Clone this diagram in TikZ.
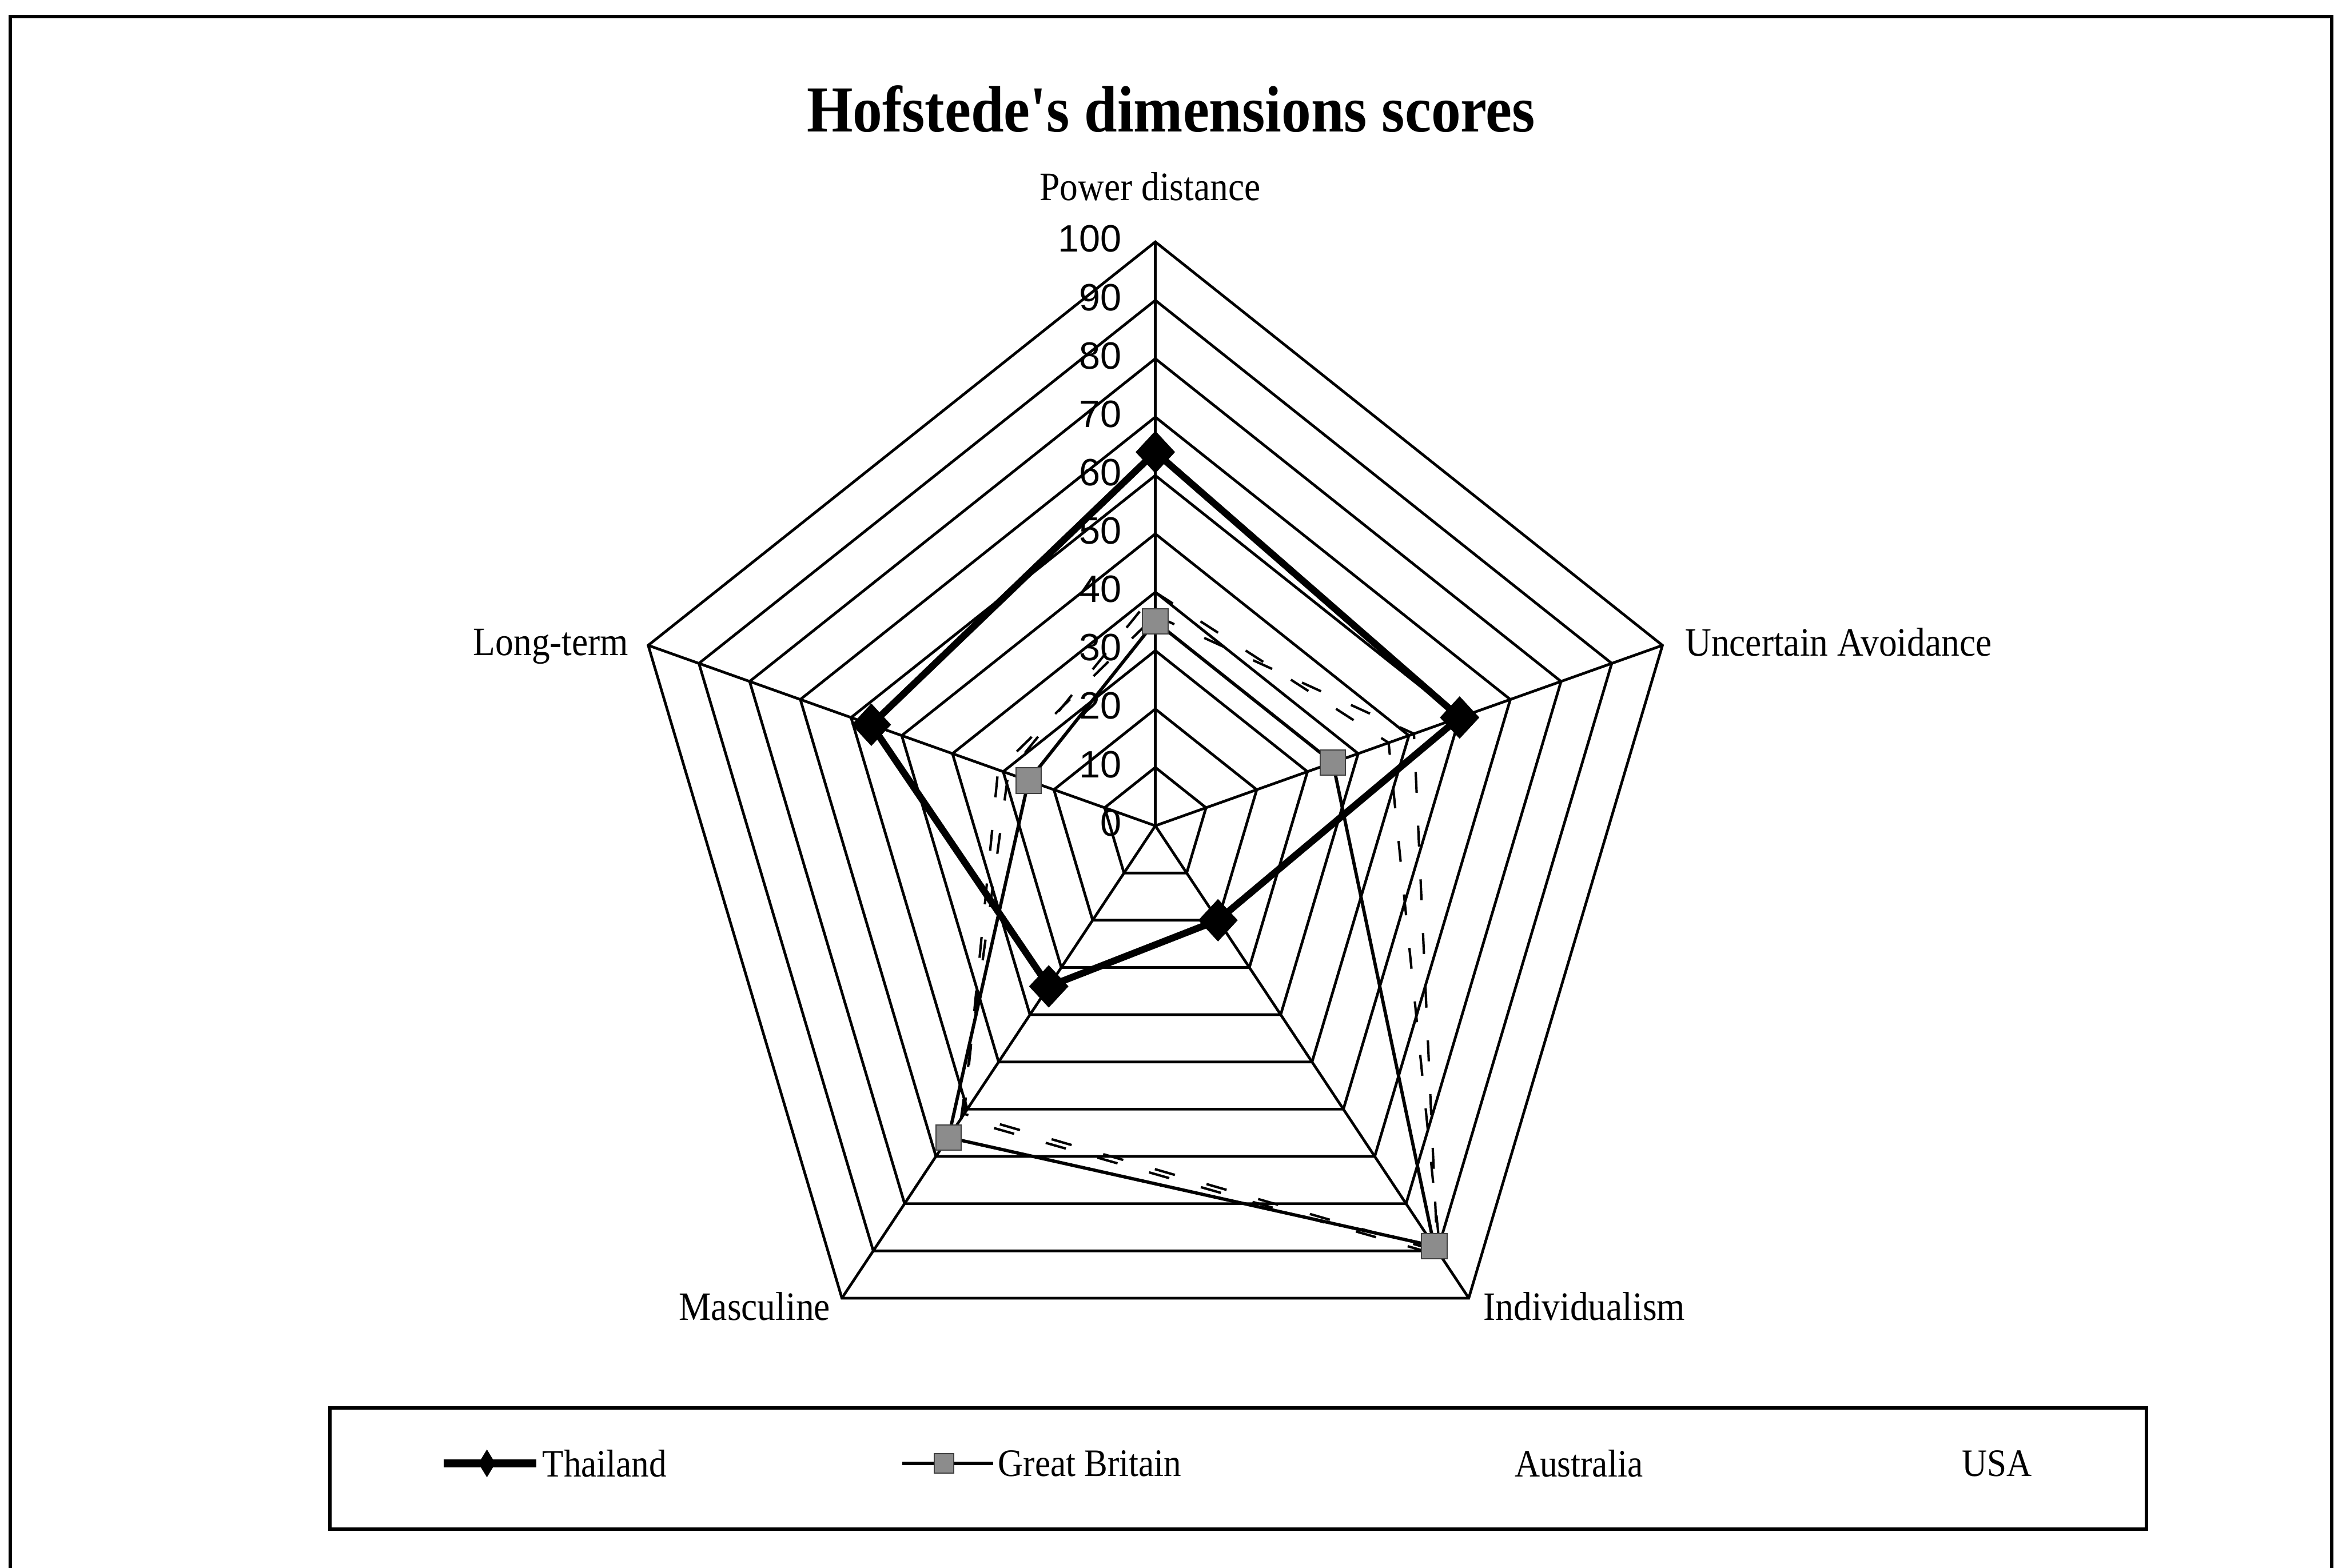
\documentclass[tikz,border=0pt]{standalone}
\usepackage{fontspec}
\setmainfont{Liberation Serif}[FakeStretch=0.9, Ligatures=TeXOff]
\newfontfamily\ticksf{Liberation Sans}
\usetikzlibrary{shapes.geometric}

\begin{document}
\begin{tikzpicture}[x=1pt,y=1pt,
  gridline/.style={line width=1.8pt, line join=miter},
  frameline/.style={line width=2.4pt},
  thline/.style={line width=4.6pt, line join=round},
  gbline/.style={line width=2.2pt, line join=round},
  otherline/.style={line width=1.6pt, dash pattern=on 14pt off 22pt},
  thmark/.style={diamond, fill=black, draw=black, inner sep=0pt,
    minimum width=26pt, minimum height=28pt},
  gbmark/.style={rectangle, fill=black!45, draw=black!75, line width=0.8pt,
    inner sep=0pt, minimum size=17pt},
  axislbl/.style={font=\fontsize{27}{30}\selectfont, inner sep=0pt},
  ticklbl/.style={font=\ticksf\fontsize{25.5}{28}\selectfont, inner sep=0pt, anchor=east},
  legtxt/.style={font=\fontsize{26}{30}\selectfont, inner sep=0pt},
]
\path[use as bounding box] (0,0) rectangle (1568,1050);

% outer frame; its lower edge lies below the page
\draw[frameline] (7,-10) -- (7,1039) -- (1561,1039) -- (1561,-10);

% title and axis names
\node[font=\bfseries\fontsize{44}{50}\selectfont, inner sep=0pt] (title) at (784,977)
  {Hofstede's dimensions scores};
\node[axislbl] (lblpd) at (770,925) {Power distance};
\node[axislbl, anchor=base east] (lbllt) at (421,611) {Long-term};
\node[axislbl, anchor=west] (lblua) at (1128,620) {Uncertain Avoidance};
\node[axislbl, anchor=east] (lblmas) at (556,175) {Masculine};
\node[axislbl, anchor=west] (lblind) at (993,175) {Individualism};

% radar chart
\begin{scope}[shift={(773.5,497)}, x=3.57pt, y=3.91pt]
  % rings and spokes
  \foreach \r in {10,20,...,100}
    \draw[gridline] (90:\r) -- (18:\r) -- (-54:\r) -- (234:\r) -- (162:\r) -- cycle;
  \coordinate (o) at (0,0);
  \coordinate (vpd) at (90:100);
  \coordinate (vua) at (18:100);
  \coordinate (vind) at (-54:100);
  \coordinate (vmas) at (234:100);
  \coordinate (vlt) at (162:100);
  \foreach \v in {vpd,vua,vind,vmas,vlt}
    \draw[gridline] (o) -- (\v);

  % data points
  \coordinate (th1) at (90:64);  \coordinate (th2) at (18:60);
  \coordinate (th3) at (-54:20); \coordinate (th4) at (234:34);
  \coordinate (th5) at (162:56);
  \coordinate (gb1) at (90:35);  \coordinate (gb2) at (18:35);
  \coordinate (gb3) at (-54:89); \coordinate (gb4) at (234:66);
  \coordinate (gb5) at (162:25);
  \coordinate (au1) at (90:36);  \coordinate (au2) at (18:51);
  \coordinate (au3) at (-54:90); \coordinate (au4) at (234:61);
  \coordinate (au5) at (162:31);
  \coordinate (us1) at (90:40);  \coordinate (us2) at (18:46);
  \coordinate (us3) at (-54:91); \coordinate (us4) at (234:62);
  \coordinate (us5) at (162:29);

  % series lines
  \draw[otherline] (au1) -- (au2) -- (au3) -- (au4) -- (au5) -- cycle;
  \draw[otherline] (us1) -- (us2) -- (us3) -- (us4) -- (us5) -- cycle;
  \draw[gbline] (gb1) -- (gb2) -- (gb3) -- (gb4) -- (gb5) -- cycle;
  \draw[thline] (th1) -- (th2) -- (th3) -- (th4) -- (th5) -- cycle;

  % markers
  \foreach \p in {gb1,gb2,gb3,gb4,gb5}
    \node[gbmark] (m\p) at (\p) {};
  \foreach \p in {th1,th2,th3,th4,th5}
    \node[thmark] (m\p) at (\p) {};
\end{scope}

% scale values
\foreach \v in {0,10,...,100}
  \node[ticklbl] (tick\v) at (751,{499+3.91*\v}) {\v};

% legend
\draw[frameline] (221,26) rectangle (1437,107);
\coordinate (lth1) at (297,70); \coordinate (lth2) at (359,70);
\draw[line width=5pt] (lth1) -- (lth2);
\node[thmark, minimum width=11pt, minimum height=18pt] (lthm) at (326,70) {};
\node[legtxt, anchor=west] (lthtxt) at (363,70) {Thailand};
\coordinate (lgb1) at (604,70); \coordinate (lgb2) at (665,70);
\draw[line width=2.2pt] (lgb1) -- (lgb2);
\node[gbmark, minimum size=13pt] (lgbm) at (632,70) {};
\node[legtxt, anchor=west] (lgbtxt) at (668,70) {Great Britain};
\node[legtxt] (lautxt) at (1057,70) {Australia};
\node[legtxt] (lustxt) at (1337,70) {USA};
\end{tikzpicture}
\end{document}
